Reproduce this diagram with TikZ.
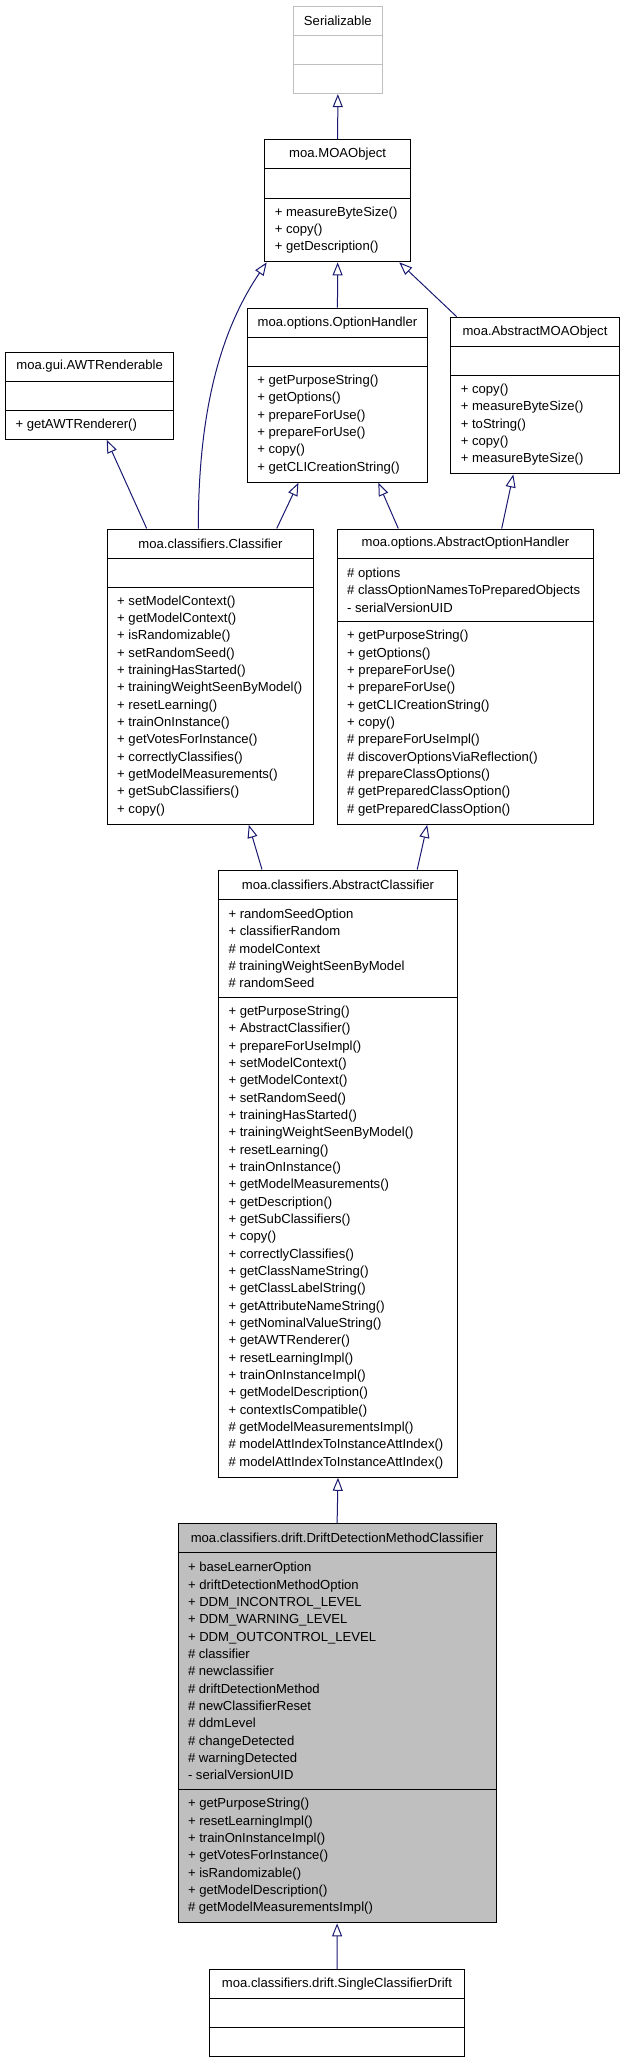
\documentclass[tikz,border=0pt]{standalone}
\usepackage{fontspec}
\setmainfont{Liberation Sans}
\usetikzlibrary{shapes.multipart,arrows.meta}

\definecolor{edgeblue}{HTML}{191970}
\definecolor{boxgray}{HTML}{BFBFBF}

\newcommand\W{100pt}
\newcommand\ctitle[1]{\parbox[c][28.13pt][c]{\W}{\centering #1}}
\newcommand\cbody[2]{\parbox[c][#1pt][c]{\W}{\raggedright\leftskip=10pt\relax #2}}

\tikzset{
  umlclass/.style={rectangle split, rectangle split parts=3, draw=black,
    line width=1pt, inner sep=0pt, anchor=north west,
    font={\fontsize{13.1}{17.33}\selectfont}},
  extends/.style={draw=edgeblue, line width=1pt,
    -{Triangle[open,length=13pt,width=10pt]}},
}

\begin{document}
\begin{tikzpicture}[x=1pt, y=-1pt]

\useasboundingbox (0,0) rectangle (624,2059);

%% top row
\renewcommand\W{89.3pt}
\node[umlclass, draw=boxgray] (serializable) at (292.7,5.7)
  {\ctitle{Serializable}\nodepart{second}\cbody{28.13}{}\nodepart{third}\cbody{28.13}{}};

\renewcommand\W{145.7pt}
\node[umlclass] (moaobject) at (264.3,139.3)
  {\ctitle{moa.MOAObject}\nodepart{second}\cbody{28.13}{}\nodepart{third}\cbody{62.79}{%
  + measureByteSize()\\+ copy()\\+ getDescription()}};

%% second row
\renewcommand\W{168.3pt}
\node[umlclass] (awtrenderable) at (5,351.5)
  {\ctitle{moa.gui.AWTRenderable}\nodepart{second}\cbody{28.13}{}\nodepart{third}\cbody{28.13}{%
  + getAWTRenderer()}};

\renewcommand\W{180.3pt}
\node[umlclass] (optionhandler) at (246.8,307.7)
  {\ctitle{moa.options.OptionHandler}\nodepart{second}\cbody{28.13}{}\nodepart{third}\cbody{114.78}{%
  + getPurposeString()\\+ getOptions()\\+ prepareForUse()\\+ prepareForUse()\\+ copy()\\%
  + getCLICreationString()}};

\renewcommand\W{168.4pt}
\node[umlclass] (abstractmoaobject) at (450.3,316.7)
  {\ctitle{moa.AbstractMOAObject}\nodepart{second}\cbody{28.13}{}\nodepart{third}\cbody{97.45}{%
  + copy()\\+ measureByteSize()\\+ toString()\\+ copy()\\+ measureByteSize()}};

%% third row
\renewcommand\W{206.6pt}
\node[umlclass] (classifier) at (106.7,528.5)
  {\ctitle{moa.classifiers.Classifier}\nodepart{second}\cbody{28.13}{}\nodepart{third}\cbody{236.09}{%
  + setModelContext()\\+ getModelContext()\\+ isRandomizable()\\+ setRandomSeed()\\%
  + trainingHasStarted()\\+ trainingWeightSeenByModel()\\+ resetLearning()\\%
  + trainOnInstance()\\+ getVotesForInstance()\\+ correctlyClassifies()\\%
  + getModelMeasurements()\\+ getSubClassifiers()\\+ copy()}};

\renewcommand\W{256.6pt}
\node[umlclass] (abstractoptionhandler) at (336.7,528.5)
  {\ctitle{moa.options.AbstractOptionHandler}\nodepart{second}\cbody{62.79}{%
  \# options\\\# classOptionNamesToPreparedObjects\\- serialVersionUID}%
  \nodepart{third}\cbody{201.43}{%
  + getPurposeString()\\+ getOptions()\\+ prepareForUse()\\+ prepareForUse()\\%
  + getCLICreationString()\\+ copy()\\\# prepareForUseImpl()\\%
  \# discoverOptionsViaReflection()\\\# prepareClassOptions()\\%
  \# getPreparedClassOption()\\\# getPreparedClassOption()}};

%% abstract classifier
\renewcommand\W{239pt}
\node[umlclass] (abstractclassifier) at (218,869.5)
  {\ctitle{moa.classifiers.AbstractClassifier}\nodepart{second}\cbody{97.45}{%
  + randomSeedOption\\+ classifierRandom\\\# modelContext\\%
  \# trainingWeightSeenByModel\\\# randomSeed}%
  \nodepart{third}\cbody{478.71}{%
  + getPurposeString()\\+ AbstractClassifier()\\+ prepareForUseImpl()\\%
  + setModelContext()\\+ getModelContext()\\+ setRandomSeed()\\%
  + trainingHasStarted()\\+ trainingWeightSeenByModel()\\+ resetLearning()\\%
  + trainOnInstance()\\+ getModelMeasurements()\\+ getDescription()\\%
  + getSubClassifiers()\\+ copy()\\+ correctlyClassifies()\\%
  + getClassNameString()\\+ getClassLabelString()\\+ getAttributeNameString()\\%
  + getNominalValueString()\\+ getAWTRenderer()\\+ resetLearningImpl()\\%
  + trainOnInstanceImpl()\\+ getModelDescription()\\+ contextIsCompatible()\\%
  \# getModelMeasurementsImpl()\\\# modelAttIndexToInstanceAttIndex()\\%
  \# modelAttIndexToInstanceAttIndex()}};

%% drift detection
\renewcommand\W{318.2pt}
\node[umlclass, fill=boxgray] (ddmclassifier) at (177.5,1523)
  {\ctitle{moa.classifiers.drift.DriftDetectionMethodClassifier}\nodepart{second}\cbody{236.09}{%
  + baseLearnerOption\\+ driftDetectionMethodOption\\+ DDM\_INCONTROL\_LEVEL\\%
  + DDM\_WARNING\_LEVEL\\+ DDM\_OUTCONTROL\_LEVEL\\\# classifier\\\# newclassifier\\%
  \# driftDetectionMethod\\\# newClassifierReset\\\# ddmLevel\\\# changeDetected\\%
  \# warningDetected\\- serialVersionUID}%
  \nodepart{third}\cbody{132.11}{%
  + getPurposeString()\\+ resetLearningImpl()\\+ trainOnInstanceImpl()\\%
  + getVotesForInstance()\\+ isRandomizable()\\+ getModelDescription()\\%
  \# getModelMeasurementsImpl()}};

\renewcommand\W{255pt}
\node[umlclass] (singleclassifierdrift) at (209,1969)
  {\ctitle{moa.classifiers.drift.SingleClassifierDrift}\nodepart{second}\cbody{28.13}{}\nodepart{third}\cbody{28.13}{}};

%% inheritance
\draw[extends] (moaobject.north) -- (serializable.south);
\draw[extends] (optionhandler.north) -- (moaobject.south);
\draw[extends] ([xshift=6.4pt]abstractmoaobject.north west) -- ([xshift=-11.7pt]moaobject.south east);
\draw[extends] ([xshift=91.6pt]classifier.north west)
  .. controls +(0,-128) and +(-42,62) .. ([xshift=2.4pt]moaobject.south west);
\draw[extends] ([xshift=40pt]classifier.north west) -- ([xshift=101.7pt]awtrenderable.south west);
\draw[extends] ([xshift=170pt]classifier.north west) -- ([xshift=51.6pt]optionhandler.south west);
\draw[extends] ([xshift=61.6pt]abstractoptionhandler.north west) -- ([xshift=131.5pt]optionhandler.south west);
\draw[extends] ([xshift=165pt]abstractoptionhandler.north west) -- ([xshift=63pt]abstractmoaobject.south west);
\draw[extends] ([xshift=44pt]abstractclassifier.north west) -- ([xshift=142.1pt]classifier.south west);
\draw[extends] ([xshift=199.2pt]abstractclassifier.north west) -- ([xshift=90.5pt]abstractoptionhandler.south west);
\draw[extends] (ddmclassifier.north) -- (abstractclassifier.south);
\draw[extends] (singleclassifierdrift.north) -- (ddmclassifier.south);

\end{tikzpicture}
\end{document}
